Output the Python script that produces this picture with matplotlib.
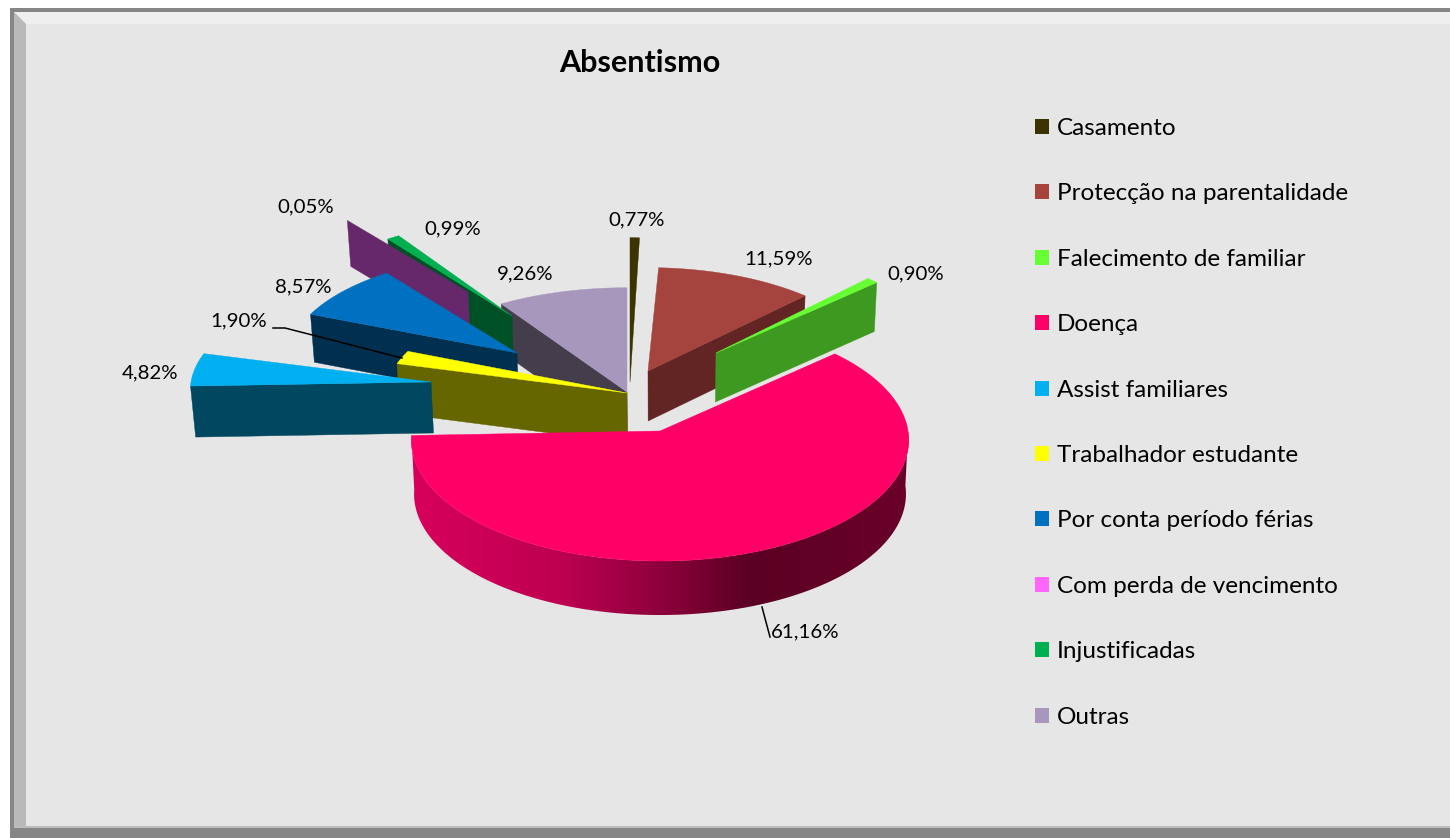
import numpy as np
import matplotlib
matplotlib.use("Agg")
import matplotlib.pyplot as plt
from matplotlib.patches import Polygon, Rectangle, Patch
from matplotlib.colors import LinearSegmentedColormap

plt.rcParams['font.family'] = ['Lato', 'DejaVu Sans']

title = "Absentismo"
categories = ["Casamento", "Protecção na parentalidade", "Falecimento de familiar", "Doença",
              "Assist familiares", "Trabalhador estudante", "Por conta período férias",
              "Com perda de vencimento", "Injustificadas", "Outras"]
values = [0.77, 11.59, 0.90, 61.16, 4.82, 1.90, 8.57, 0.05, 0.99, 9.26]

top_colors = ["#3B3300", "#A5443F", "#66FF33", "#FF0066", "#00B0F0",
              "#FFFF00", "#0070C0", "#FF66FF", "#00B050", "#A797BC"]
wall_colors = ["#3B3300", "#632523", "#3D991F", "#FF0066", "#00475F",
               "#666600", "#002F50", "#66286A", "#005026", "#433D4C"]

# exploded-view layout per slice, in pixels
tips_x = [630, 648, 716, 660, 431, 627, 517, 468, 512, 627]
tips_y = [382, 371, 353, 431, 382, 393, 353, 292, 316, 392]
radii_x = [212, 236, 228, 248, 240, 243, 229, 212, 219, 243]
radii_y = [155, 111, 110, 120.4, 110, 114, 106, 95, 102, 112]
depths = [0, 50, 49, 54, 51, 50, 48, 46, 50, 49]
draw_order = [9, 8, 7, 6, 5, 4, 3, 1, 2, 0]
PERSP = 0.074
TAPER = 0.011
VANISH_X = 660

label_x = [637, 779, 916, 805, 150, 239, 303, 306, 453, 525]
label_y = [220, 259, 274, 632, 373, 321, 287, 207, 229, 274]

fig = plt.figure(figsize=(14.5, 8.38), dpi=100, facecolor="white")
ax = fig.add_axes([0, 0, 1, 1])

# chart frame with bevel
ax.add_patch(Rectangle((10, 8), 1440, 830, fc="#868686", ec="none", zorder=0))
ax.add_patch(Rectangle((14, 12), 1436, 814, fc="#E6E6E6", ec="none", zorder=0.1))
ax.add_patch(Polygon([(14, 12), (1450, 12), (1450, 24), (26, 24)], fc="#EFEFEF", ec="none", zorder=0.2))
ax.add_patch(Polygon([(14, 12), (26, 24), (26, 826), (14, 826)], fc="#B9B9B9", ec="none", zorder=0.2))
ax.add_patch(Rectangle((14, 826), 1436, 2, fc="#BDBDBD", ec="none", zorder=0.2))


def project(i, theta_deg):
    t = np.radians(theta_deg)
    s = 1.0 / (1.0 + PERSP * np.cos(t))
    return (tips_x[i] + radii_x[i] * np.sin(t) * s,
            tips_y[i] - radii_y[i] * np.cos(t) * s)


def lower(x, y, d):
    return x + (VANISH_X - x) * TAPER, y + d


rim_cmap = LinearSegmentedColormap.from_list(
    "rim", [(0.0, "#D8005C"), (0.3, "#BE0050"), (0.5, "#8E003C"), (0.68, "#5A0022"), (1.0, "#6A0029")])

angles = np.concatenate([[0], np.cumsum(values)]) / np.sum(values) * 360.0
z = 1.0
for i in draw_order:
    a0, a1 = angles[i], angles[i + 1]
    th = np.linspace(a0, a1, max(3, int((a1 - a0) * 2)))
    arc_x, arc_y = project(i, th)
    d = depths[i]
    tip = (tips_x[i], tips_y[i])
    if categories[i] == "Doença":
        # only the part of the rim that faces the viewer: from the widest point round the front
        front = th >= 90
        fx, fy = arc_x[front], arc_y[front]
        low_x, low_y = lower(fx, fy, d)
        rim = Polygon(list(zip(fx, fy)) + list(zip(low_x[::-1], low_y[::-1])), fc="none", ec="none",
                      transform=ax.transData)
        ax.add_patch(rim)
        xmin, xmax = arc_x.min(), arc_x.max()
        grad = np.linspace(0, 1, 512).reshape(1, -1)
        im = ax.imshow(grad, cmap=rim_cmap, extent=(xmin - 3, xmax + 3, low_y.max() + 2, arc_y.min() - 2),
                       aspect="auto", zorder=z, interpolation="bilinear")
        im.set_clip_path(rim)
    elif d > 0:
        edge = a1 if 0.5 * (a0 + a1) < 180 else a0
        ex, ey = project(i, edge)
        ax.add_patch(Polygon([tip, (ex, ey), lower(ex, ey, d), lower(tip[0], tip[1], d)],
                             fc=wall_colors[i], ec=wall_colors[i], lw=0.3, zorder=z))
    z += 0.1
    if values[i] >= 0.1:
        pts = [tip] + list(zip(arc_x, arc_y))
        ax.add_patch(Polygon(pts, fc=top_colors[i], ec=top_colors[i], lw=0.3, zorder=z))
    z += 0.1

ax.set_xlim(0, 1450)
ax.set_ylim(838, 0)
ax.axis("off")

# data labels and leader lines
for v, lx, ly in zip(values, label_x, label_y):
    ax.text(lx, ly, f"{v:.2f}".replace(".", ",") + "%", ha="center", va="center",
            fontsize=14.7, color="black", zorder=20)
ax.plot([273, 285, 402], [328, 328, 358], color="black", lw=1.1, zorder=19)
ax.plot([762, 770], [607, 637], color="black", lw=1.1, zorder=19)

ax.text(640, 63, title, ha="center", va="center", fontsize=22, fontweight="bold", color="black", zorder=20)

handles = [Patch(fc=c, ec="none") for c in top_colors]
ax.legend(handles, categories, loc="upper left", bbox_to_anchor=(1035, 118), bbox_transform=ax.transData,
          frameon=False, fontsize=17.5, handlelength=0.576, handleheight=0.576, handletextpad=0.33,
          labelspacing=1.827, borderpad=0.0, borderaxespad=0.0, labelcolor="black").set_zorder(20)

fig.savefig("out.png", dpi=100, facecolor="white")
